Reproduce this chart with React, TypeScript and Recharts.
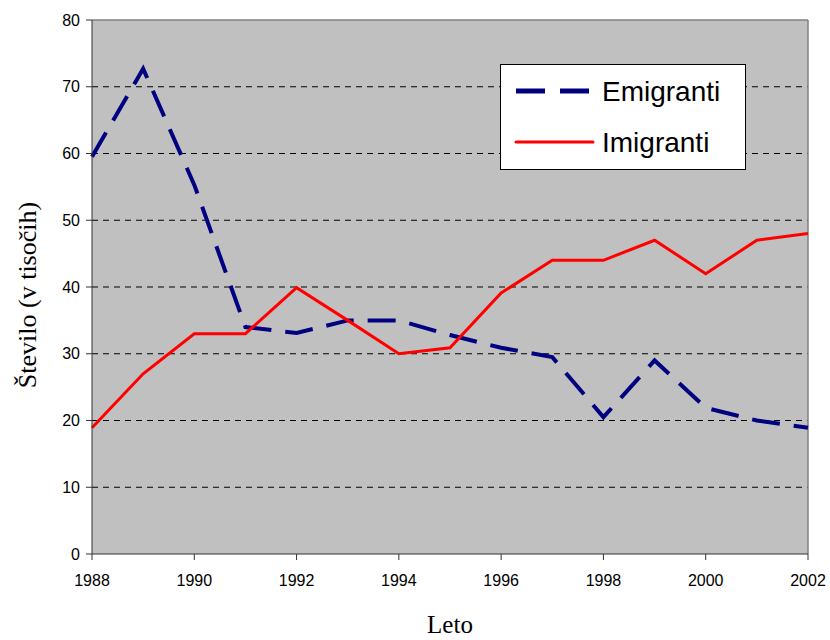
import { LineChart, Line, XAxis, YAxis, CartesianGrid, ReferenceLine } from 'recharts';

const years = [1988, 1989, 1990, 1991, 1992, 1993, 1994, 1995, 1996, 1997, 1998, 1999, 2000, 2001, 2002];
const emigranti = [59.5, 72.7, 55.3, 34, 33.1, 35, 35, 32.8, 30.9, 29.5, 20.5, 29, 21.9, 20, 18.9];
const imigranti = [18.9, 27, 33, 33, 39.9, 35, 30, 30.9, 39.1, 44, 44, 47, 42, 47, 48];
const xTicks = [1988, 1990, 1992, 1994, 1996, 1998, 2000, 2002];
const yTicks = [0, 10, 20, 30, 40, 50, 60, 70, 80];
const gridValues = [10, 20, 30, 40, 50, 60, 70];

const data = years.map((y, i) => ({ year: y, emi: emigranti[i], imi: imigranti[i] }));

const sans = '"Liberation Sans", Arial, sans-serif';
const serif = '"Liberation Serif", "Times New Roman", serif';

// legend box drawn straight into the svg, so it takes no layout room
function LegendBox({ x, y }: { x: number; y: number }) {
  return (
    <g transform={`translate(${x} ${y})`}>
      <rect x={0.5} y={0.5} width={245} height={105} fill="#fff" stroke="#000" strokeWidth={1} />
      <line x1={16} x2={93} y1={27} y2={27} stroke="#000080" strokeWidth={5} strokeDasharray="29 15" />
      <line x1={16} x2={93} y1={78} y2={78} stroke="#ff0000" strokeWidth={3} strokeLinecap="round" />
      <text x={102} y={37} fontFamily={sans} fontSize={28} fill="#000">Emigranti</text>
      <text x={102} y={88} fontFamily={sans} fontSize={28} fill="#000">Imigranti</text>
    </g>
  );
}

export default function App() {
  // pinned to the page corner so chart pixels = page pixels
  return (
    <div style={{ position: 'absolute', left: 0, top: 0, width: 830, height: 640 }}>
      <LineChart width={830} height={640} data={data} margin={{ top: 20, right: 22, left: 0, bottom: 56 }}>
        <CartesianGrid
          fill="#c0c0c0"
          vertical={false}
          horizontalValues={gridValues}
          stroke="#000"
          strokeDasharray="6 5"
        />
        <ReferenceLine y={80} stroke="#808080" strokeWidth={1.5} />
        <ReferenceLine x={2002} stroke="#808080" strokeWidth={1.5} />
        <XAxis
          dataKey="year"
          type="number"
          domain={[1988, 2002]}
          ticks={xTicks}
          interval={0}
          height={30}
          stroke="#333"
          tickSize={6}
          tickMargin={15}
          tick={{ fill: '#000', fontFamily: sans, fontSize: 16 }}
        />
        <YAxis
          type="number"
          domain={[0, 80]}
          ticks={yTicks}
          interval={0}
          width={92}
          stroke="#333"
          tickSize={6}
          tickMargin={6}
          tick={{ fill: '#000', fontFamily: sans, fontSize: 16 }}
        />
        <Line
          dataKey="emi"
          type="linear"
          stroke="#000080"
          strokeWidth={4}
          strokeDasharray="28 14"
          dot={false}
          activeDot={false}
          isAnimationActive={false}
        />
        <Line
          dataKey="imi"
          type="linear"
          stroke="#ff0000"
          strokeWidth={3}
          dot={false}
          activeDot={false}
          isAnimationActive={false}
        />
        <LegendBox x={500} y={64} />
        <text
          x={30}
          y={295}
          transform="rotate(-90 30 295)"
          textAnchor="middle"
          dominantBaseline="middle"
          fontFamily={serif}
          fontSize={26}
          fill="#000"
        >
          Število (v tisočih)
        </text>
        <text x={450} y={633} textAnchor="middle" fontFamily={serif} fontSize={25} fill="#000">
          Leto
        </text>
      </LineChart>
    </div>
  );
}
